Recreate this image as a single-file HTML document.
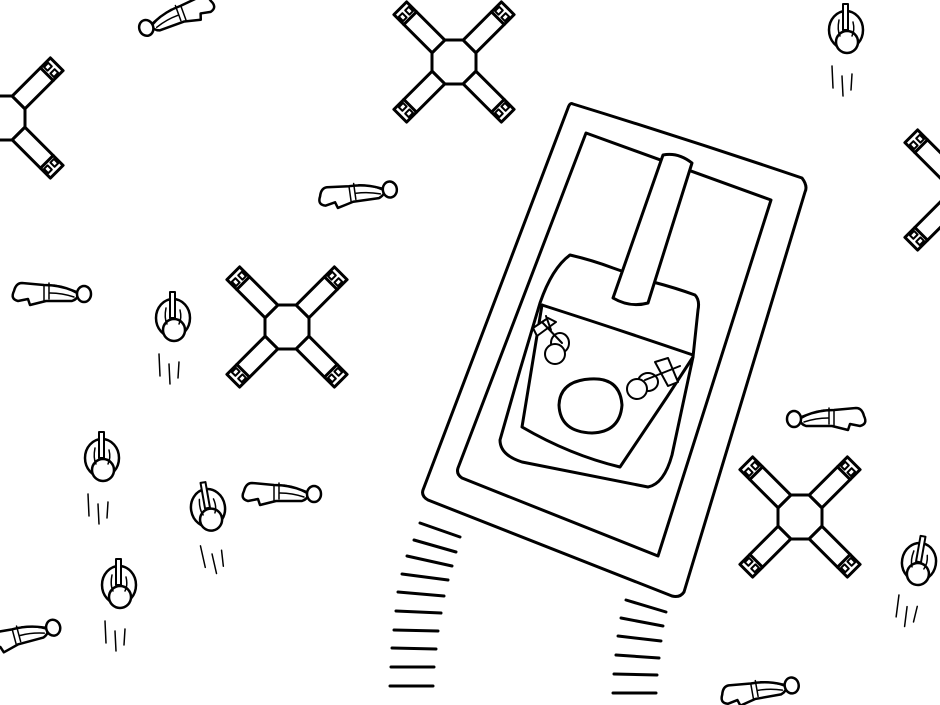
<!DOCTYPE html>
<html><head><meta charset="utf-8"><style>html,body{margin:0;padding:0;background:#fff}svg{display:block}</style></head>
<body>
<svg width="940" height="705" viewBox="0 0 940 705" xmlns="http://www.w3.org/2000/svg" fill="none" stroke="#000" stroke-width="3" stroke-linejoin="round" stroke-linecap="round">
<defs>
<g id="arm">
  <path d="M22 -9 L76 -9 L76 9 L22 9 Z" fill="#fff"/>
  <line x1="62" y1="-9" x2="62" y2="9"/>
  <rect x="65" y="-7" width="6" height="5" stroke-width="2"/>
  <rect x="65" y="2" width="6" height="5" stroke-width="2"/>
</g>
<g id="drone">
  <polygon points="-9,-22 9,-22 22,-9 22,9 9,22 -9,22 -22,9 -22,-9" fill="#fff"/>
  <use href="#arm" transform="rotate(-45)"/>
  <use href="#arm" transform="rotate(45)"/>
  <use href="#arm" transform="rotate(135)"/>
  <use href="#arm" transform="rotate(-135)"/>
</g>
<g id="stand">
  <ellipse cx="0" cy="0" rx="17" ry="19" fill="#fff" stroke-width="2.5"/>
  <circle cx="1" cy="12" r="11" fill="#fff" stroke-width="2.5"/>
  <rect x="-3" y="-26" width="5" height="26" fill="#fff" stroke-width="2"/>
  <path d="M-7 -10 Q-9 0 -6 6 M7 -8 Q9 0 6 6" stroke-width="1.5"/>
  <path d="M-14 36 L-13 58 M-4 46 L-3 66 M6 44 L5 60" stroke-width="1.5"/>
</g>
<g id="lie">
  <path d="M-30 -10 L-8 -8 Q8 -8 22 -2 L27 0 Q26 6 20 8 L-6 8 L-14 10 L-22 12 L-24 6 L-34 8 Q-42 6 -38 -2 Q-36 -10 -30 -10 Z" fill="#fff" stroke-width="2.5"/>
  <path d="M-8 -8 L-8 8 M-3 -10 L-3 6 M2 -8 Q14 -6 24 0 M-2 0 Q10 0 22 4" stroke-width="1.5"/>
  <ellipse cx="32" cy="1" rx="7" ry="8" fill="#fff" stroke-width="2.5"/>
</g>
</defs>

<use href="#drone" transform="translate(454,62)"/>
<use href="#drone" transform="translate(287,327)"/>
<use href="#drone" transform="translate(800,517)"/>
<use href="#drone" transform="translate(3,118)"/>
<use href="#drone" transform="translate(965,190)"/>

<use href="#stand" transform="translate(846,30)"/>
<use href="#stand" transform="translate(173,318)"/>
<use href="#stand" transform="translate(102,458)"/>
<use href="#stand" transform="translate(208,508) rotate(-10)"/>
<use href="#stand" transform="translate(119,585)"/>
<use href="#stand" transform="translate(919,562) rotate(10)"/>

<use href="#lie" transform="translate(176,16) rotate(160) scale(1,-1)"/>
<use href="#lie" transform="translate(358,193) rotate(-8)"/>
<use href="#lie" transform="translate(52,293)"/>
<use href="#lie" transform="translate(282,493)"/>
<use href="#lie" transform="translate(826,418) rotate(180) scale(1,-1)"/>
<use href="#lie" transform="translate(22,635) rotate(-15)"/>
<use href="#lie" transform="translate(760,690) rotate(-10)"/>

<!-- tank -->
<path d="M573 104 Q690 140 802 178 Q808 186 805 192 L684 592 Q680 598 672 596 L428 500 Q421 496 423 490 L568 108 Q570 102 573 104 Z" fill="#fff"/>
<path d="M586 133 L771 200 L658 556 L462 478 Q456 474 458 468 Z"/>
<path d="M570 255 Q592 260 613 268 L653 282 Q676 288 695 295 Q700 300 698 310 L693 357 L672 455 Q664 484 648 487 L522 462 Q500 455 500 440 L520 370 L540 303 Q552 268 570 255 Z" fill="#fff"/>
<path d="M542 305 Q620 330 693 355"/>
<path d="M542 305 L522 427 Q570 455 620 467 L667 397 L693 357"/>
<path d="M663 155 Q678 152 692 163 L648 303 Q630 308 613 298 Z" fill="#fff"/>
<path d="M590 379 Q620 377 622 405 Q620 432 592 433 Q560 432 559 405 Q560 381 590 379 Z" fill="#fff"/>
<g stroke-width="2">
  <ellipse cx="560" cy="343" rx="9" ry="10" fill="#fff"/>
  <circle cx="555" cy="354" r="10" fill="#fff"/>
  <path d="M542 322 L562 343 M533 328 L548 318 L556 322 L537 336 Z M546 316 L551 330" fill="#fff"/>
  <ellipse cx="648" cy="382" rx="10" ry="9" fill="#fff"/>
  <circle cx="637" cy="389" r="10" fill="#fff"/>
  <path d="M645 380 L680 366 M655 362 L668 358 L678 382 L668 386 Z" fill="#fff"/>
</g>

<g stroke-width="3">
  <line x1="420" y1="523" x2="460" y2="537"/>
  <line x1="414" y1="540" x2="456" y2="552"/>
  <line x1="407" y1="556" x2="452" y2="566"/>
  <line x1="402" y1="574" x2="448" y2="580"/>
  <line x1="398" y1="592" x2="444" y2="596"/>
  <line x1="396" y1="611" x2="441" y2="613"/>
  <line x1="394" y1="630" x2="438" y2="631"/>
  <line x1="392" y1="648" x2="436" y2="649"/>
  <line x1="391" y1="667" x2="434" y2="667"/>
  <line x1="390" y1="686" x2="433" y2="686"/>
  <line x1="626" y1="600" x2="666" y2="612"/>
  <line x1="621" y1="618" x2="663" y2="626"/>
  <line x1="618" y1="636" x2="661" y2="641"/>
  <line x1="616" y1="655" x2="659" y2="658"/>
  <line x1="614" y1="674" x2="657" y2="675"/>
  <line x1="613" y1="693" x2="656" y2="693"/>
</g>
</svg>
</body></html>
